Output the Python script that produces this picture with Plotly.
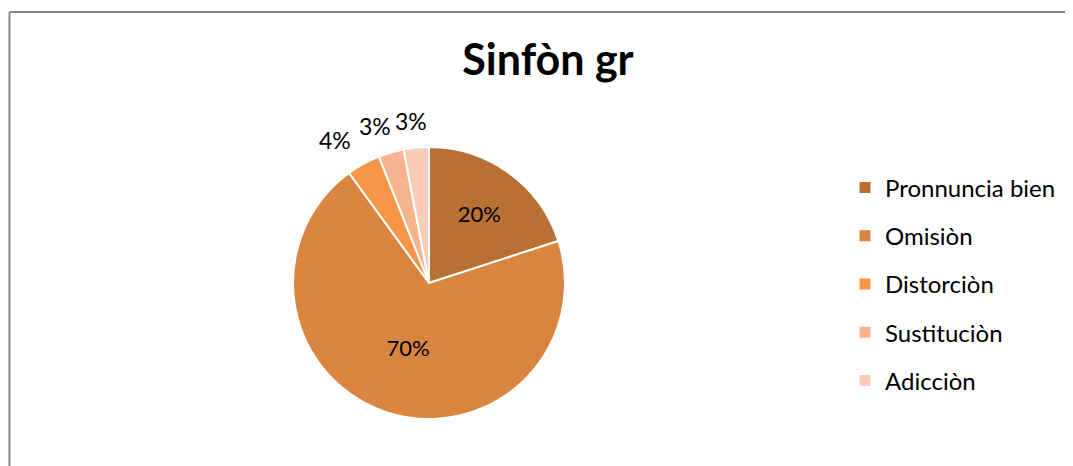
import math
import plotly.graph_objects as go

# Data
categories = ["Pronnuncia bien", "Omisiòn", "Distorciòn", "Sustituciòn", "Adicciòn"]
values = [20, 70, 4, 3, 3]
colors = ["#B97034", "#D9843F", "#F79646", "#F9B38F", "#FBCDB8"]
label_inside = [True, True, False, False, False]

W, H = 1073, 466
# page has an 8px body margin, so target pixel positions are shifted by that
OFF = 8
cx, cy, r = 429 - OFF, 283 - OFF, 136

fig = go.Figure()

fig.add_trace(go.Pie(
    labels=categories,
    values=values,
    sort=False,
    direction="clockwise",
    rotation=0,
    marker=dict(colors=colors, line=dict(color="white", width=2)),
    texttemplate=["%{percent:.0%}" if ins else "" for ins in label_inside],
    textposition="inside",
    insidetextorientation="horizontal",
    textfont=dict(family="Lato", size=22, color="black"),
    domain=dict(x=[(cx - r) / W, (cx + r) / W], y=[(H - cy - r) / H, (H - cy + r) / H]),
    showlegend=False,
    hoverinfo="label+percent",
))

# outside labels for the thin slices, spread along each slice's mid angle
total = sum(values)
cum = 0
annotations = []
for v, ins in zip(values, label_inside):
    mid = (cum + v / 2) / total * 2 * math.pi
    cum += v
    if ins:
        continue
    px = cx + 195 * math.sin(mid)
    py = cy - 163 * math.cos(mid)
    annotations.append(dict(
        x=px / W, y=1 - py / H, xref="paper", yref="paper",
        text=f"{round(100 * v / total)}%", showarrow=False,
        xanchor="center", yanchor="middle",
        font=dict(family="Lato", size=23, color="black"),
    ))

# legend entries as separate groups so the spacing can match
for i, (name, col) in enumerate(zip(categories, colors)):
    fig.add_trace(go.Scatter(
        x=[None], y=[None], mode="markers", name=name,
        legendgroup=f"g{i}",
        marker=dict(symbol="square", size=11, color=col),
    ))

fig.update_layout(
    width=W, height=H,
    margin=dict(l=0, r=0, t=0, b=0),
    paper_bgcolor="white",
    plot_bgcolor="white",
    title=dict(text="<b>Sinfòn gr</b>", x=(548 - OFF) / W, xanchor="center",
               y=1 - (60 - OFF) / H, yanchor="middle",
               font=dict(family="Lato", size=43, color="black")),
    xaxis=dict(visible=False),
    yaxis=dict(visible=False),
    legend=dict(x=(845 - OFF) / W, xanchor="left", y=1 - (284 - OFF) / H, yanchor="middle",
                font=dict(family="Lato", size=24, color="black"),
                tracegroupgap=14, bgcolor="rgba(0,0,0,0)"),
    annotations=annotations,
    shapes=[
        dict(type="line", xref="paper", yref="paper", x0=1.5 / W, x1=1.5 / W, y0=0, y1=1 - 4 / H,
             line=dict(color="#868686", width=2)),
        dict(type="line", xref="paper", yref="paper", x0=1.5 / W, x1=1, y0=1 - 4 / H, y1=1 - 4 / H,
             line=dict(color="#868686", width=2)),
    ],
)

fig.write_html("out.html")
